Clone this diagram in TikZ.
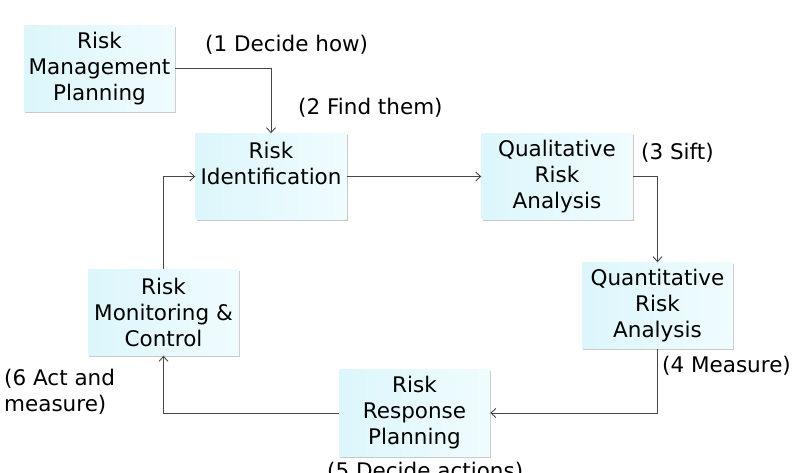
\documentclass[tikz,border=0pt]{standalone}
\usepackage{fontspec}
\setmainfont{DejaVu Sans}
\usetikzlibrary{arrows.meta,shadows}
\definecolor{boxl}{RGB}{220,246,251}
\definecolor{boxr}{RGB}{240,252,254}
\definecolor{linec}{RGB}{70,70,70}
\begin{document}
\begin{tikzpicture}[x=1bp,y=-1bp,
  font=\fontsize{21.5bp}{26bp}\selectfont,
  procbox/.style={minimum width=151bp,minimum height=86bp,align=center,inner sep=0pt,
    left color=boxl,right color=boxr,draw=none,
    drop shadow={shadow xshift=1.2bp,shadow yshift=-1.5bp,opacity=0.35,fill=black!60}},
  conn/.style={draw=linec,line width=0.9bp,-{Straight Barb[length=5bp,width=9bp,line width=0.9bp]}},
  lbl/.style={inner sep=0pt,text=black}]
\useasboundingbox (0,0) rectangle (797,473);
\fill[white] (0,0) rectangle (797,473);
\node[procbox] (rmp) at (99.5,68.5) {Risk\\Management\\Planning};
\node[procbox] (ri) at (271,176.5) {Risk\\Identification\\\mbox{}};
\node[procbox] (qual) at (557,176.5) {Qualitative\\Risk\\Analysis};
\node[procbox] (quant) at (657.5,305.5) {Quantitative\\Risk\\Analysis};
\node[procbox] (rrp) at (414.5,413) {Risk\\Response\\Planning};
\node[procbox] (rmc) at (163.5,312.5) {Risk\\Monitoring \&\\Control};
\draw[conn] (rmp.east) -| (ri.north);
\draw[conn] (ri.east) -- (qual.west);
\draw[conn] (qual.east) -| (quant.north);
\draw[conn] (quant.south) |- (rrp.east);
\draw[conn] (rrp.west) -| (rmc.south);
\draw[conn] (rmc.north) |- (ri.west);
\node[lbl,anchor=base west] (l1) at (205,52) {(1 Decide how)};
\node[lbl,anchor=base west] (l2) at (298,115) {(2 Find them)};
\node[lbl,anchor=base west] (l3) at (641,160) {(3 Sift)};
\node[lbl,anchor=base west] (l4) at (662,373) {(4 Measure)};
\node[lbl,anchor=base west] (l5) at (327,478) {(5 Decide actions)};
\node[lbl,anchor=north west,align=left] (l6) at (4,369) {(6 Act and\\measure)};
\end{tikzpicture}
\end{document}
